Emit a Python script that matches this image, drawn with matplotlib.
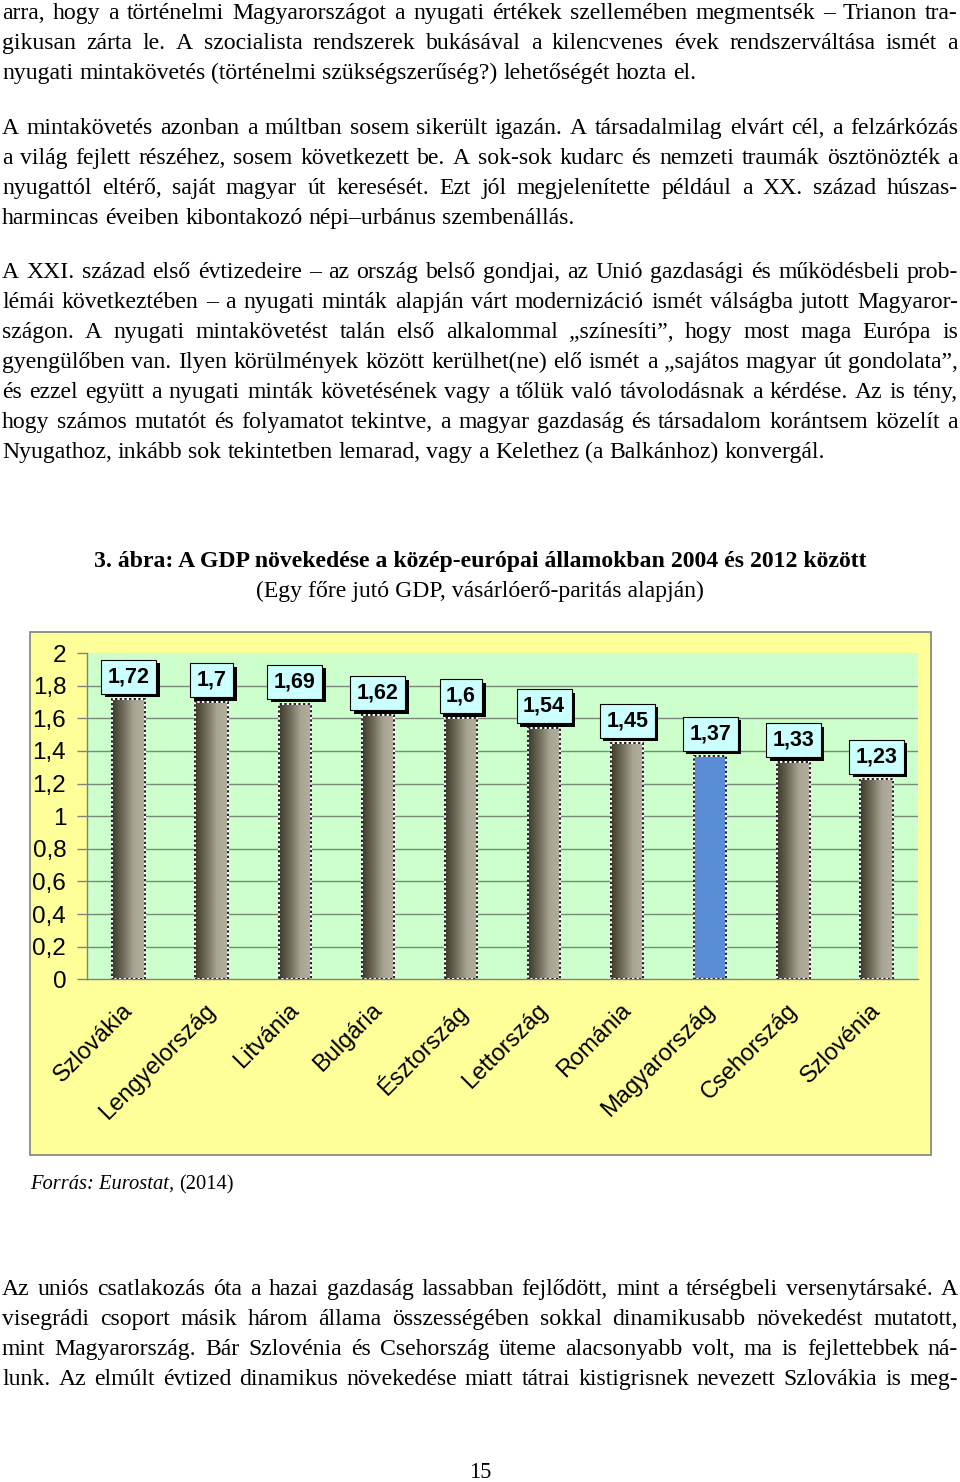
import matplotlib
matplotlib.use('Agg')
import matplotlib.pyplot as plt
import numpy as np
from matplotlib import patheffects
from matplotlib.patches import Rectangle
from matplotlib.colors import LinearSegmentedColormap
from matplotlib.transforms import ScaledTranslation

# --- chart data ---
countries = ['Szlovákia', 'Lengyelország', 'Litvánia', 'Bulgária', 'Észtország',
             'Lettország', 'Románia', 'Magyarország', 'Csehország', 'Szlovénia']
growth = [1.72, 1.70, 1.69, 1.62, 1.60, 1.54, 1.45, 1.37, 1.33, 1.23]
value_labels = ['1,72', '1,7', '1,69', '1,62', '1,6', '1,54', '1,45', '1,37', '1,33', '1,23']
y_ticks = [0, 0.2, 0.4, 0.6, 0.8, 1.0, 1.2, 1.4, 1.6, 1.8, 2.0]
y_tick_labels = ['0', '0,2', '0,4', '0,6', '0,8', '1', '1,2', '1,4', '1,6', '1,8', '2']
highlight = 'Magyarország'

title = '3. ábra: A GDP növekedése a közép-európai államokban 2004 és 2012 között'
subtitle = '(Egy főre jutó GDP, vásárlóerő-paritás alapján)'
source_italic = 'Forrás: Eurostat,'
source_rest = '(2014)'
page_no = '15'

# --- page text, one entry per printed line ---
para1 = [
    'arra, hogy a történelmi Magyarországot a nyugati értékek szellemében megmentsék – Trianon tra-',
    'gikusan zárta le. A szocialista rendszerek bukásával a kilencvenes évek rendszerváltása ismét a',
    'nyugati mintakövetés (történelmi szükségszerűség?) lehetőségét hozta el.',
]
para2 = [
    'A mintakövetés azonban a múltban sosem sikerült igazán. A társadalmilag elvárt cél, a felzárkózás',
    'a világ fejlett részéhez, sosem következett be. A sok-sok kudarc és nemzeti traumák ösztönözték a',
    'nyugattól eltérő, saját magyar út keresését. Ezt jól megjelenítette például a XX. század húszas-',
    'harmincas éveiben kibontakozó népi–urbánus szembenállás.',
]
para3 = [
    'A XXI. század első évtizedeire – az ország belső gondjai, az Unió gazdasági és működésbeli prob-',
    'lémái következtében – a nyugati minták alapján várt modernizáció ismét válságba jutott Magyaror-',
    'szágon. A nyugati mintakövetést talán első alkalommal „színesíti”, hogy most maga Európa is',
    'gyengülőben van. Ilyen körülmények között kerülhet(ne) elő ismét a „sajátos magyar út gondolata”,',
    'és ezzel együtt a nyugati minták követésének vagy a tőlük való távolodásnak a kérdése. Az is tény,',
    'hogy számos mutatót és folyamatot tekintve, a magyar gazdaság és társadalom korántsem közelít a',
    'Nyugathoz, inkább sok tekintetben lemarad, vagy a Kelethez (a Balkánhoz) konvergál.',
]
para4 = [
    'Az uniós csatlakozás óta a hazai gazdaság lassabban fejlődött, mint a térségbeli versenytársaké. A',
    'visegrádi csoport másik három állama összességében sokkal dinamikusabb növekedést mutatott,',
    'mint Magyarország. Bár Szlovénia és Csehország üteme alacsonyabb volt, ma is fejlettebbek ná-',
    'lunk. Az elmúlt évtized dinamikus növekedése miatt tátrai kistigrisnek nevezett Szlovákia is meg-',
]

W, H = 960, 1482
SERIF = ['Liberation Serif', 'DejaVu Serif']
SANS = ['Liberation Sans', 'DejaVu Sans']

fig = plt.figure(figsize=(W / 100, H / 100), dpi=100)
fig.patch.set_facecolor('white')
renderer = fig.canvas.get_renderer()


def fx(px):
    return px / W


def fy(py):
    return 1 - py / H


def text_width(s, fs, **kw):
    t = fig.text(0, 0, s, fontsize=fs, **kw)
    w = t.get_window_extent(renderer).width
    t.remove()
    return w


def fit_size(s, width, **kw):
    return 10 * width / text_width(s, 10, **kw)


def draw_line(line, base, fs, justify, x0=2, x1=958, min_gap=0.15):
    words = line.split(' ')
    em = fs * 100 / 72
    ws = [text_width(w, fs, family=SERIF) for w in words]
    gap = 0.25 * em
    if justify and len(words) > 1:
        gap = (x1 - x0 - sum(ws)) / (len(words) - 1)
        if gap < min_gap * em:
            k = (x1 - x0) / (sum(ws) + (len(words) - 1) * min_gap * em)
            fs = fs * k
            ws = [text_width(w, fs, family=SERIF) for w in words]
            gap = (x1 - x0 - sum(ws)) / (len(words) - 1)
    x = x0
    for w, wd in zip(words, ws):
        fig.text(fx(x), fy(base), w, fontsize=fs, family=SERIF, ha='left', va='baseline')
        x += wd + gap


def draw_para(lines, first_base, fs, step=30, last_justified=False, **kw):
    for i, line in enumerate(lines):
        last = i == len(lines) - 1
        draw_line(line, first_base + i * step, fs, justify=(not last) or last_justified, **kw)


body_fs = fit_size(para1[-1], 695, family=SERIF)
draw_para(para1, 19, body_fs)
draw_para(para2, 134, body_fs)
draw_para(para3, 278, body_fs)

# bottom paragraph is printed condensed; keep the glyph height, spread the words
draw_para(para4, 1295, body_fs, last_justified=True)

fig.text(0.5, fy(1473), page_no, fontsize=body_fs * 0.95, family=SERIF, ha='center', va='center')

# chart caption
title_fs = fit_size(title, 776, family=SERIF, weight='bold')
fig.text(fx(480), fy(567), title, fontsize=title_fs, family=SERIF, weight='bold',
         ha='center', va='baseline')
sub_fs = fit_size(subtitle, 450, family=SERIF)
fig.text(fx(480), fy(597), subtitle, fontsize=sub_fs, family=SERIF, ha='center', va='baseline')

# source line
src_fs = fit_size(source_italic + ' ' + source_rest, 197, family=SERIF)
fig.text(fx(30), fy(1189), source_italic, fontsize=src_fs, family=SERIF, style='italic',
         ha='left', va='baseline')
w_it = text_width(source_italic + ' ', src_fs, family=SERIF, style='italic')
fig.text(fx(30 + w_it), fy(1189), source_rest, fontsize=src_fs, family=SERIF,
         ha='left', va='baseline')

# outer chart frame
frame = Rectangle((fx(30), fy(1155)), (931 - 30) / W, (1155 - 632) / H, transform=fig.transFigure,
                  facecolor='#FFFF99', edgecolor='#808080', lw=1.2, zorder=-1)
fig.patches.append(frame)

ax = fig.add_axes([fx(87), fy(979.3), (918 - 87) / W, (979.3 - 653) / H])
ax.set_facecolor('#CCFFCC')

x = np.arange(len(countries))
bar_w = 0.39
for yv in y_ticks[1:-1]:
    ax.axhline(yv, color='#7a8a7a', lw=1, zorder=1)

cmap = LinearSegmentedColormap.from_list('olive', ['#3e3b2b', '#6f6b58', '#a9a594', '#b3af9f'])
grad = np.linspace(0, 1, 64).reshape(1, -1)
bars = ax.bar(x, growth, width=bar_w, facecolor='none', edgecolor='white', lw=1.4, zorder=3)
for b, c in zip(bars, countries):
    if c == highlight:
        b.set_facecolor('#5B8CD6')
    else:
        ax.imshow(grad, extent=[b.get_x(), b.get_x() + b.get_width(), 0, b.get_height()],
                  aspect='auto', cmap=cmap, zorder=2, interpolation='bilinear')
ax.bar(x, growth, width=bar_w, facecolor='none', edgecolor='#222222', lw=1.4,
       linestyle=(0, (1.2, 1.2)), zorder=3.5)

ax.set_xlim(-0.5, len(countries) - 0.5)
ax.set_ylim(0, 2)
ax.set_aspect('auto')

ax.set_yticks(y_ticks)
ax.set_yticklabels(y_tick_labels, family=SANS, fontsize=17.5)
ax.set_xticks([])
ax.tick_params(axis='y', length=7, width=1, color='#808080', pad=8)
for s in ['top', 'right']:
    ax.spines[s].set_visible(False)
for s in ['left', 'bottom']:
    ax.spines[s].set_color('#808080')
    ax.spines[s].set_linewidth(1)

for i, (v, lab) in enumerate(zip(growth, value_labels)):
    t = ax.annotate(lab, (i, v), xytext=(0, 22), textcoords='offset pixels', ha='center',
                    va='center', fontsize=15.5, fontweight='bold', family=SANS, zorder=6,
                    bbox=dict(boxstyle='square,pad=0.3', fc='#CCFFFF', ec='black', lw=0.8))
    t.get_bbox_patch().set_path_effects([
        patheffects.withSimplePatchShadow(offset=(2.6, -2.6), shadow_rgbFace='black', alpha=1.0)])

off = ScaledTranslation(-0.07, -0.20, fig.dpi_scale_trans)
for i, c in enumerate(countries):
    ax.text(i, 0, c, transform=ax.get_xaxis_transform() + off, rotation=45,
            rotation_mode='anchor', ha='right', va='top', fontsize=17, family=SANS)

fig.savefig('out.png', dpi=100)
